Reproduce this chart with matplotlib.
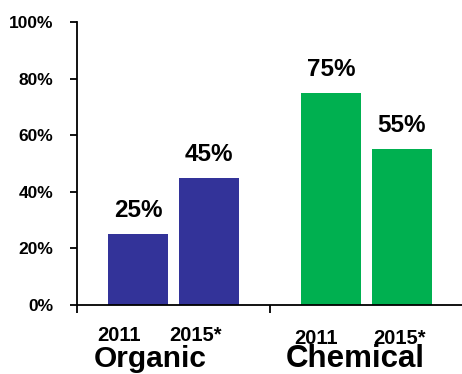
import matplotlib.pyplot as plt
import numpy as np

plt.rcParams['font.family'] = ['Liberation Sans', 'DejaVu Sans']

groups = ['Organic', 'Chemical']
years = ['2011', '2015*']
values = {'Organic': [25, 45], 'Chemical': [75, 55]}
colors = {'Organic': '#333399', 'Chemical': '#00B050'}
yticks = [0, 20, 40, 60, 80, 100]

fig = plt.figure(figsize=(4.62, 3.74), dpi=100)
ax = fig.add_axes([77/462, 1 - 305/374, 386/462, 283/374])

offset = 0.184
width = 0.311
for gi, g in enumerate(groups):
    xs = np.array([gi + 0.5 - offset, gi + 0.5 + offset])
    ax.bar(xs, values[g], width=width, color=colors[g], edgecolor='none')
    for x, v in zip(xs, values[g]):
        ax.annotate('%d%%' % v, (x, v), xytext=(0, 12.2), textcoords='offset points',
                    ha='center', va='baseline', fontsize=17.5, fontweight='bold')

ax.set_xlim(0, 2)
ax.set_ylim(0, 100)
ax.set_yticks(yticks)
ax.set_yticklabels(['%d%%' % t for t in yticks], fontsize=12.5, fontweight='bold')
ax.tick_params(axis='y', length=5, width=1.3, pad=12)
ax.set_xticks([0, 1, 2])
ax.set_xticklabels([])
ax.tick_params(axis='x', length=6, width=1.3)
for s in ['top', 'right']:
    ax.spines[s].set_visible(False)
for s in ['left', 'bottom']:
    ax.spines[s].set_linewidth(1.3)

# category labels under the axis (baselines in pixels)
yr_pos = {'Organic': ([119, 195], 341), 'Chemical': ([316, 399], 344)}
grp_pos = {'Organic': (150, 367, 21.5), 'Chemical': (355, 367, 22.5)}
for g in groups:
    xs, yp = yr_pos[g]
    for x, yr in zip(xs, years):
        fig.text(x/462, 1 - yp/374, yr, ha='center', va='baseline',
                 fontsize=14.5, fontweight='bold')
    gx, gy, fs = grp_pos[g]
    fig.text(gx/462, 1 - gy/374, g, ha='center', va='baseline',
             fontsize=fs, fontweight='bold')

fig.savefig('out.png', dpi=100)
